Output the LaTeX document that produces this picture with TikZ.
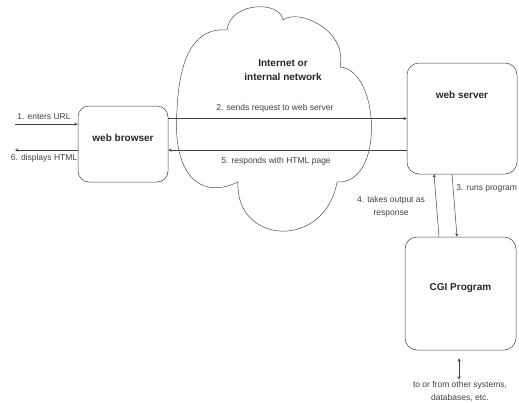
\documentclass[tikz,border=0pt]{standalone}
\usepackage{fontspec}
\setmainfont{Liberation Sans}

\begin{document}
\begin{tikzpicture}[x=1pt,y=-1pt,>=stealth,line width=0.5pt,
  box/.style={draw=black!75,rounded corners=11pt},
  ttl/.style={font=\bfseries\fontsize{10}{14}\selectfont,text=black!85},
  lbl/.style={font=\fontsize{8.5}{13}\selectfont,text=black!75,inner sep=1pt}]
  \useasboundingbox (0,0) rectangle (519,402);

  % the cloud
  \draw[black!70] (227,30) .. controls (230,2) and (280,0) .. (283,20)
    .. controls (298,8) and (348,30) .. (340,67)
    .. controls (380,70) and (385,185) .. (337,182)
    .. controls (325,250) and (235,245) .. (238,182)
    .. controls (200,200) and (172,175) .. (177,110)
    .. controls (180,40) and (205,28) .. cycle;
  \node[ttl,align=center] (net) at (283,70) {Internet or\\internal network};

  % boxes
  \node[box,minimum width=90pt,minimum height=76pt,
    label={[ttl,yshift=6pt]center:web browser}] (br) at (123,144) {};
  \node[box,rounded corners=12pt,minimum width=110pt,minimum height=111pt,
    label={[ttl,yshift=23.5pt]center:web server}] (srv) at (462,118.5) {};
  \node[box,rounded corners=12pt,minimum width=111pt,minimum height=113pt,
    label={[ttl,yshift=5.5pt]center:CGI Program}] (cgi) at (460.5,293.5) {};
  \node[lbl,align=center] (ext) at (460,391.5) {to or from other systems,\\databases, etc.};

  % connectors
  \coordinate (usr) at (15,124);
  \coordinate (disp) at (15,150);
  \draw[->,black!75] (usr) -- (usr -| br.west);
  \draw[->,black!75] (disp -| br.west) -- (disp);
  \draw[->,black!75] (br.east |- srv.west) -- (srv.west);
  \draw[->,black!75] (srv.west |- disp) -- (br.east |- disp);
  \draw[->,black!75] ([xshift=-21.5pt]cgi.north) -- ([xshift=-28pt]srv.south);
  \draw[->,black!75] ([xshift=-10pt]srv.south) -- ([xshift=-3.5pt]cgi.north);
  \draw[<->,black!75] ([xshift=-1.5pt,yshift=-8pt]cgi.south) -- ([xshift=-1pt,yshift=0.5pt]ext.north);

  \node[lbl] (l1) at (44,117) {1. enters URL};
  \node[lbl] (l6) at (44,158) {6. displays HTML};
  \node[lbl] (l2) at (275,108) {2. sends request to web server};
  \node[lbl] (l5) at (276,161) {5. responds with HTML page};
  \node[lbl,anchor=west] (l3) at (455,188) {3. runs program};
  \node[lbl,align=center] (l4) at (391,207) {4. takes output as\\response};
\end{tikzpicture}
\end{document}
